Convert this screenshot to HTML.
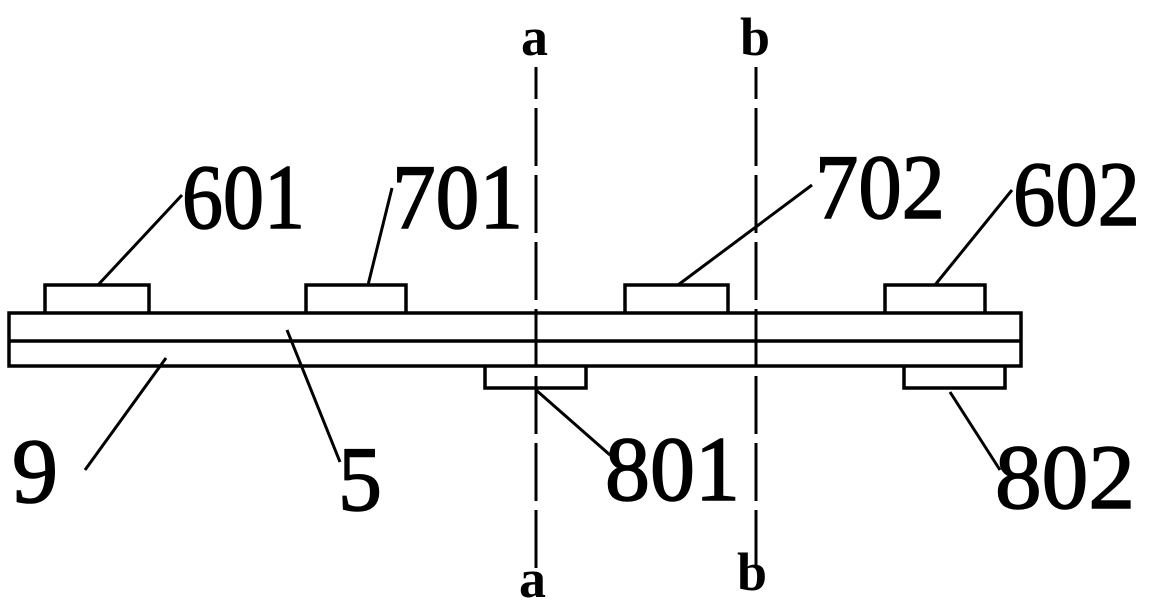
<!DOCTYPE html>
<html><head><meta charset="utf-8"><style>
html,body{margin:0;padding:0;background:#fff;}
svg{display:block}
</style></head><body>
<svg width="1161" height="607" viewBox="0 0 1161 607" xmlns="http://www.w3.org/2000/svg">
<g fill="none" stroke="#000" stroke-width="3.5">
<rect x="9" y="313" width="1012" height="53"/>
<line x1="9" y1="341" x2="1021" y2="341"/>
<polyline points="45,313 45,285 149,285 149,313"/>
<polyline points="306,313 306,285 406,285 406,313"/>
<polyline points="625,313 625,285 728,285 728,313"/>
<polyline points="885,313 885,285 985,285 985,313"/>
<polyline points="485,366 485,388 586,388 586,366"/>
<polyline points="904,366 904,388 1005,388 1005,366"/>
</g>
<g stroke="#000" stroke-width="3" fill="none">
<line x1="536" y1="67" x2="536" y2="568" stroke-dasharray="32 9 58 9 58 9 58 9 58 9 58 9 58 9 58 9 58 9"/>
<line x1="756" y1="67" x2="756" y2="568" stroke-dasharray="32 9 58 9 58 9 58 9 58 9 58 9 58 9 58 9 58 9"/>
<line x1="98" y1="285" x2="182" y2="195"/>
<line x1="368" y1="285" x2="392" y2="188"/>
<line x1="678" y1="285" x2="812" y2="185"/>
<line x1="935" y1="285" x2="1012" y2="190"/>
<line x1="166" y1="358" x2="85" y2="470"/>
<line x1="287" y1="330" x2="340" y2="462"/>
<line x1="536" y1="390" x2="610" y2="455"/>
<line x1="950" y1="392" x2="1000" y2="470"/>
</g>
<g font-family="Liberation Serif, serif" font-size="92" fill="#000" stroke="#000" stroke-width="1.5">
<text x="182" y="228" textLength="123" lengthAdjust="spacingAndGlyphs">601</text>
<text x="392" y="228" textLength="131" lengthAdjust="spacingAndGlyphs">701</text>
<text x="815" y="218" textLength="130" lengthAdjust="spacingAndGlyphs">702</text>
<text x="1013" y="225" textLength="127" lengthAdjust="spacingAndGlyphs">602</text>
<text x="12" y="502" textLength="46" lengthAdjust="spacingAndGlyphs">9</text>
<text x="338" y="510" textLength="44" lengthAdjust="spacingAndGlyphs">5</text>
<text x="605" y="500" textLength="135" lengthAdjust="spacingAndGlyphs">801</text>
<text x="995" y="508" textLength="140" lengthAdjust="spacingAndGlyphs">802</text>
</g>
<g font-family="Liberation Serif, serif" font-weight="bold" font-size="54" fill="#000">
<text x="521" y="55">a</text>
<text x="740" y="55">b</text>
<text x="519" y="597">a</text>
<text x="737" y="590">b</text>
</g>
</svg>
</body></html>
